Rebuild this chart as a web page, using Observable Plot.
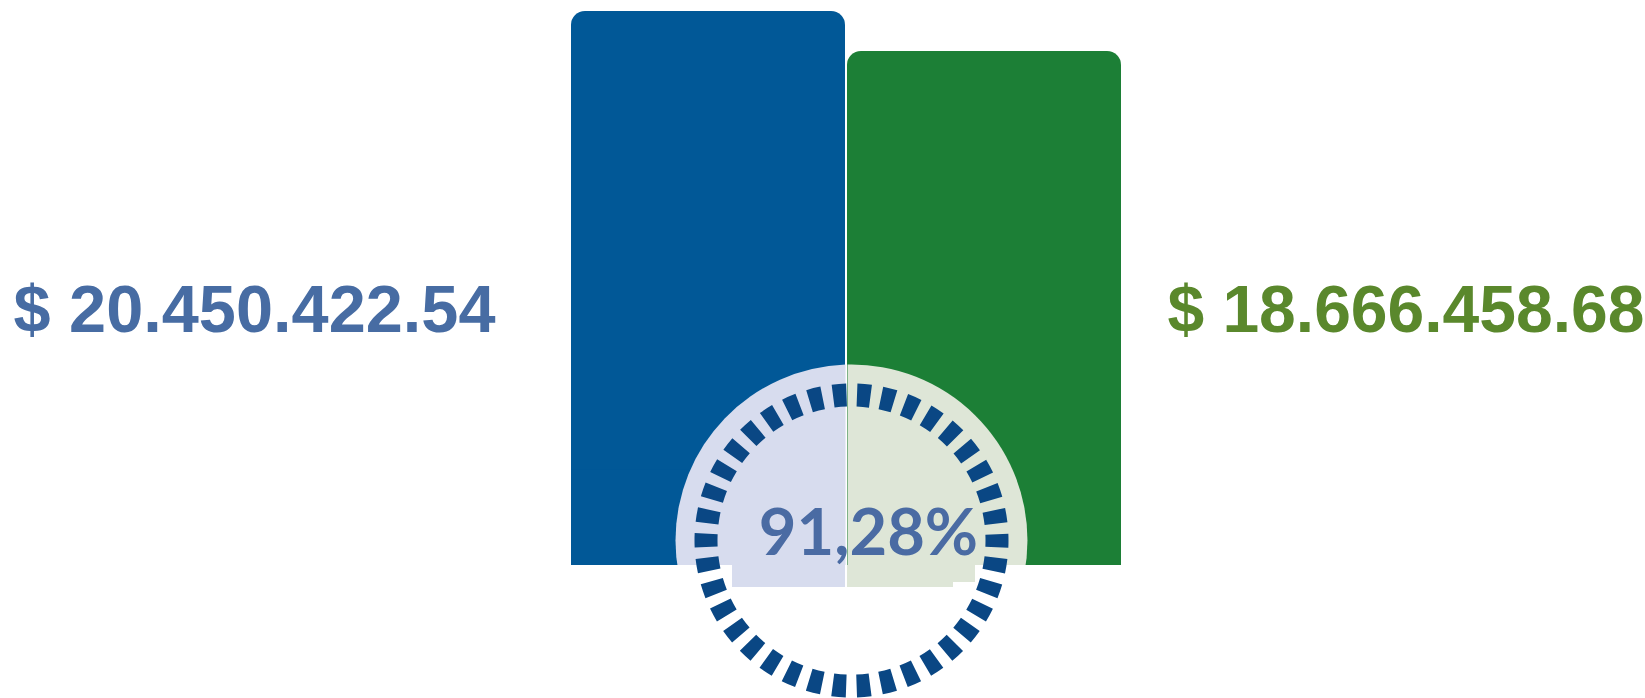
<!DOCTYPE html>
<html><head><meta charset="utf-8">
<script src="https://cdn.jsdelivr.net/npm/d3@7"></script>
<script src="https://cdn.jsdelivr.net/npm/@observablehq/plot@0.6"></script>
<style>html,body{margin:0;padding:0;background:#fff;overflow:hidden}</style>
</head><body><div id="chart"></div>
<script>
// ---- data ----
const categories = ["Presupuestado", "Ejecutado"];
const values = [20450422.54, 18666458.68];
const barColors = ["#015897", "#1c7f36"];
const labelColors = ["#476ca3", "#5a882c"];
const lightColors = ["#d7dcee", "#dee6d7"];
const yFloor = -4257400; // bars' visual baseline in the reference

const data = categories.map((c, i) => ({cat: c, value: values[i]}));

const money = d3.formatLocale({decimal: ".", thousands: ".", grouping: [3], currency: ["$ ", ""]}).format("$,.2f");
const pct = d3.formatLocale({decimal: ",", thousands: ".", grouping: [3], currency: ["", ""]}).format(".2%");
const leftLabel = money(values[0]);
const rightLabel = money(values[1]);
const pctLabel = pct(values[1] / values[0]);

// decorative half-disc symbols (split at the gap between the bars)
const leftPiece = {draw(ctx, size) {
  const r = Math.sqrt(size / Math.PI), s = -6, a = Math.acos(s / r);
  ctx.moveTo(r * Math.cos(a), r * Math.sin(a));
  ctx.arc(0, 0, r, a, 2 * Math.PI - a, false);
  ctx.closePath();
}};
const rightPiece = {draw(ctx, size) {
  const r = Math.sqrt(size / Math.PI), s = -4, b = Math.acos(s / r);
  ctx.moveTo(r * Math.cos(-b), r * Math.sin(-b));
  ctx.arc(0, 0, r, -b, b, false);
  ctx.closePath();
}};

const W = 1645, H = 698;
const cx = 851, cy = 540;
const ringR = 145.5, nDash = 38;
const pitch = 2 * Math.PI * ringR / nDash, dash = 13.5;

const svg = Plot.plot({
  width: W, height: H,
  margin: 0,
  x: {domain: categories, range: [571, 1121], paddingInner: 0.00725, paddingOuter: 0, axis: null},
  y: {domain: [yFloor, values[0]], range: [565, 11], axis: null},
  color: {domain: categories, range: barColors},
  marks: [
    Plot.barY(data, {x: "cat", y1: yFloor, y2: "value", fill: "cat", rx: 14}),
    Plot.barY(data, {x: "cat", y1: yFloor, y2: 0, fill: "cat"}),
    Plot.dot([0], {x: null, y: null, frameAnchor: "top-left", dx: cx, dy: cy, r: 176, symbol: leftPiece, fill: lightColors[0], stroke: "none"}),
    Plot.dot([0], {x: null, y: null, frameAnchor: "top-left", dx: cx, dy: cy, r: 176, symbol: rightPiece, fill: lightColors[1], stroke: "none"}),
    Plot.rect([0], {insetLeft: 660, insetRight: W - 1040, insetTop: 565, insetBottom: 0, fill: "white"}),
    Plot.rect([0], {insetLeft: 732, insetRight: W - 845, insetTop: 565, insetBottom: H - 587, fill: lightColors[0]}),
    Plot.rect([0], {insetLeft: 847, insetRight: W - 975, insetTop: 565, insetBottom: H - 582, fill: lightColors[1]}),
    Plot.rect([0], {insetLeft: 847, insetRight: W - 953, insetTop: 565, insetBottom: H - 587, fill: lightColors[1]}),
    Plot.dot([0], {x: null, y: null, frameAnchor: "top-left", dx: cx, dy: cy, r: ringR, fill: "none", stroke: "#0a4784", strokeWidth: 23, strokeDasharray: `${dash} ${pitch - dash}`, strokeDashoffset: dash / 2}),
    Plot.text([pctLabel], {x: null, y: null, text: d => d, frameAnchor: "top-left", dx: 868, dy: 554, lineAnchor: "bottom", textAnchor: "middle", fontSize: 65, fontWeight: 700, fontFamily: "Lato", fill: "#4a6ba3"}),
    Plot.text([leftLabel], {x: null, y: null, text: d => d, frameAnchor: "top-left", dx: 13, dy: 331, lineAnchor: "bottom", textAnchor: "start", fontSize: 66, fontWeight: 700, fontFamily: "Liberation Sans", fill: labelColors[0]}),
    Plot.text([rightLabel], {x: null, y: null, text: d => d, frameAnchor: "top-left", dx: 1644, dy: 331, lineAnchor: "bottom", textAnchor: "end", fontSize: 66, fontWeight: 700, fontFamily: "Liberation Sans", fill: labelColors[1]})
  ]
});
d3.select(svg).selectAll("text").filter(function() { return this.textContent === leftLabel; })
  .attr("textLength", 482).attr("lengthAdjust", "spacingAndGlyphs");
document.getElementById("chart").appendChild(svg);
</script>
</body></html>
